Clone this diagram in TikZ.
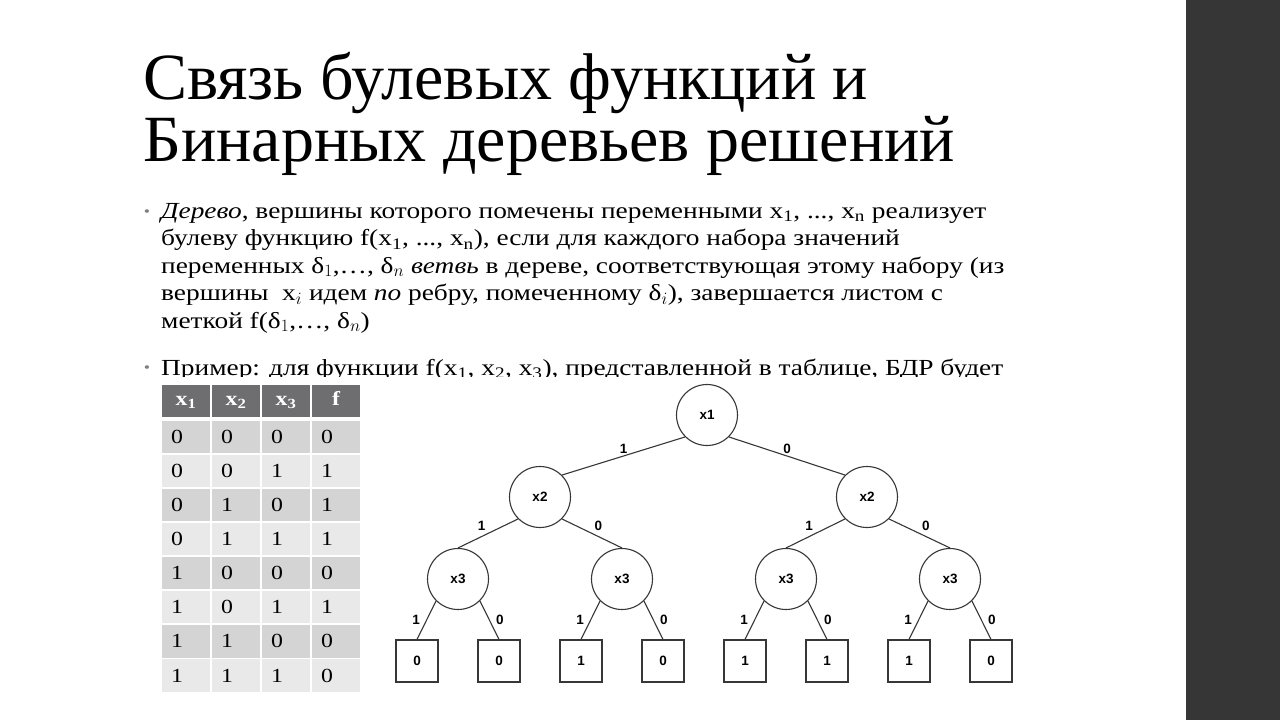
\documentclass[tikz,border=0pt]{standalone}
\usepackage{fontspec}
\setmainfont{Liberation Serif}[FakeStretch=1.19]
\newfontfamily\titlefamily{Liberation Serif}
\newfontfamily\treefamily{Liberation Sans}
\usetikzlibrary{positioning}

\definecolor{slidebar}{RGB}{54,54,54}
\definecolor{headgray}{RGB}{110,110,113}
\definecolor{rowdark}{RGB}{212,212,212}
\definecolor{rowlight}{RGB}{233,233,233}
\definecolor{treeline}{RGB}{55,55,55}
\newcommand{\titlesize}{\titlefamily\fontsize{66}{62}\selectfont\lineskiplimit=-100pt\relax}

\begin{document}
\begin{tikzpicture}[
        x=1pt, y=-1pt,
        vert/.style={circle, draw=treeline, line width=1.1pt, minimum size=61pt, inner sep=0pt, font=\treefamily\bfseries\fontsize{13.5}{16}\selectfont},
        leaf/.style={rectangle, draw=treeline, line width=1.1pt, minimum size=42pt, inner sep=0pt, font=\treefamily\bfseries\fontsize{13.5}{16}\selectfont},
        branch/.style={draw=treeline, line width=1.1pt},
        lbl/.style={inner sep=2pt, font=\treefamily\bfseries\fontsize{13.5}{16}\selectfont},
        cell/.style={rectangle, minimum width=48pt, minimum height=32.2pt, text width=30pt, text height=13pt, text depth=0pt, inner xsep=9pt, inner ysep=0pt, align=left, font=\fontsize{20}{24}\selectfont},
        headcell/.style={cell, fill=headgray, text=white, align=center, minimum height=32pt, text height=12pt, text depth=4pt, font=\bfseries\fontsize{20}{24}\selectfont},
        dot/.style={text=gray, inner sep=0pt, font=\fontsize{15}{18}\selectfont},
        bodytext/.style={inner sep=0pt, align=left, font=\fontsize{23}{27.5}\selectfont}
    ]
        \useasboundingbox (0,0) rectangle (1280,720);
        \fill[white] (0,0) rectangle (1280,720);
        \fill[slidebar] (1186,0) rectangle (1280,720);

        % Title
        \node[anchor=north west, inner sep=0pt, align=left, font=\titlesize] (title) at (143,52)
            {Связь булевых функций и\\Бинарных деревьев решений};

        % Bullets
        \node[dot] (dot1) at (147,213) {•};
        \node[bodytext, anchor=north west] (def) at (161,203)
            {\textit{Дерево}, вершины которого помечены переменными x\textsubscript{1}, ..., x\textsubscript{n} реализует\\
             булеву функцию f(x\textsubscript{1}, ..., x\textsubscript{n}), если для каждого набора значений\\
             переменных δ$_1$,…, δ$_n$ \textit{ветвь} в дереве, соответствующая этому набору (из\\
             вершины \ x$_i$ идем \textit{по} ребру, помеченному δ$_i$), завершается листом с\\
             меткой f(δ$_1$,…, δ$_n$)};
        \node[dot] (dot2) at (147,369) {•};
        \begin{scope}
            \clip (150,340) rectangle (1030,376.5);
            \node[bodytext, anchor=base west] (ex) at (161,375)
                {Пример: для функции f(x\textsubscript{1}, x\textsubscript{2}, x\textsubscript{3}), представленной в таблице, БДР будет};
        \end{scope}

        % Truth table
        \node[headcell] (h1) at (186,401) {x\textsubscript{1}};
        \node[headcell] (h2) at (236,401) {x\textsubscript{2}};
        \node[headcell] (h3) at (286,401) {x\textsubscript{3}};
        \node[headcell] (h4) at (336,401) {f};
        \foreach \fc/\a/\b/\c/\f [count=\i] in {rowdark/0/0/0/0, rowlight/0/0/1/1, rowdark/0/1/0/1, rowlight/0/1/1/1,
                                               rowdark/1/0/0/0, rowlight/1/0/1/1, rowdark/1/1/0/0, rowlight/1/1/1/0}{
            \node[cell, fill=\fc] (r\i a) at (186,{436.8+(\i-1)*34.1}) {\a};
            \node[cell, fill=\fc] (r\i b) at (236,{436.8+(\i-1)*34.1}) {\b};
            \node[cell, fill=\fc] (r\i c) at (286,{436.8+(\i-1)*34.1}) {\c};
            \node[cell, fill=\fc] (r\i f) at (336,{436.8+(\i-1)*34.1}) {\f};
        }

        % Decision tree
        \node[vert] (x1) at (707,415) {x1};
        \node[vert] (x2a) at (540,497) {x2};
        \node[vert] (x2b) at (867,497) {x2};
        \node[vert] (x3a) at (458,579) {x3};
        \node[vert] (x3b) at (622,579) {x3};
        \node[vert] (x3c) at (786,579) {x3};
        \node[vert] (x3d) at (950,579) {x3};
        \node[leaf] (l1) at (417,661) {0};
        \node[leaf] (l2) at (499,661) {0};
        \node[leaf] (l3) at (581,661) {1};
        \node[leaf] (l4) at (663,661) {0};
        \node[leaf] (l5) at (745,661) {1};
        \node[leaf] (l6) at (827,661) {1};
        \node[leaf] (l7) at (909,661) {1};
        \node[leaf] (l8) at (991,661) {0};

        % Branches
        \draw[branch] (x1.south west) -- node[lbl, above] {1} (x2a.north east);
        \draw[branch] (x1.south east) -- node[lbl, above] {0} (x2b.north west);
        \draw[branch] (x2a.south west) -- node[lbl, above left] {1} (x3a.north);
        \draw[branch] (x2a.south east) -- node[lbl, above right] {0} (x3b.north);
        \draw[branch] (x2b.south west) -- node[lbl, above left] {1} (x3c.north);
        \draw[branch] (x2b.south east) -- node[lbl, above right] {0} (x3d.north);
        \draw[branch] (x3a.south west) -- node[lbl, left=4pt] {1} (l1.north);
        \draw[branch] (x3a.south east) -- node[lbl, right=4pt] {0} (l2.north);
        \draw[branch] (x3b.south west) -- node[lbl, left=4pt] {1} (l3.north);
        \draw[branch] (x3b.south east) -- node[lbl, right=4pt] {0} (l4.north);
        \draw[branch] (x3c.south west) -- node[lbl, left=4pt] {1} (l5.north);
        \draw[branch] (x3c.south east) -- node[lbl, right=4pt] {0} (l6.north);
        \draw[branch] (x3d.south west) -- node[lbl, left=4pt] {1} (l7.north);
        \draw[branch] (x3d.south east) -- node[lbl, right=4pt] {0} (l8.north);
    \end{tikzpicture}
\end{document}
